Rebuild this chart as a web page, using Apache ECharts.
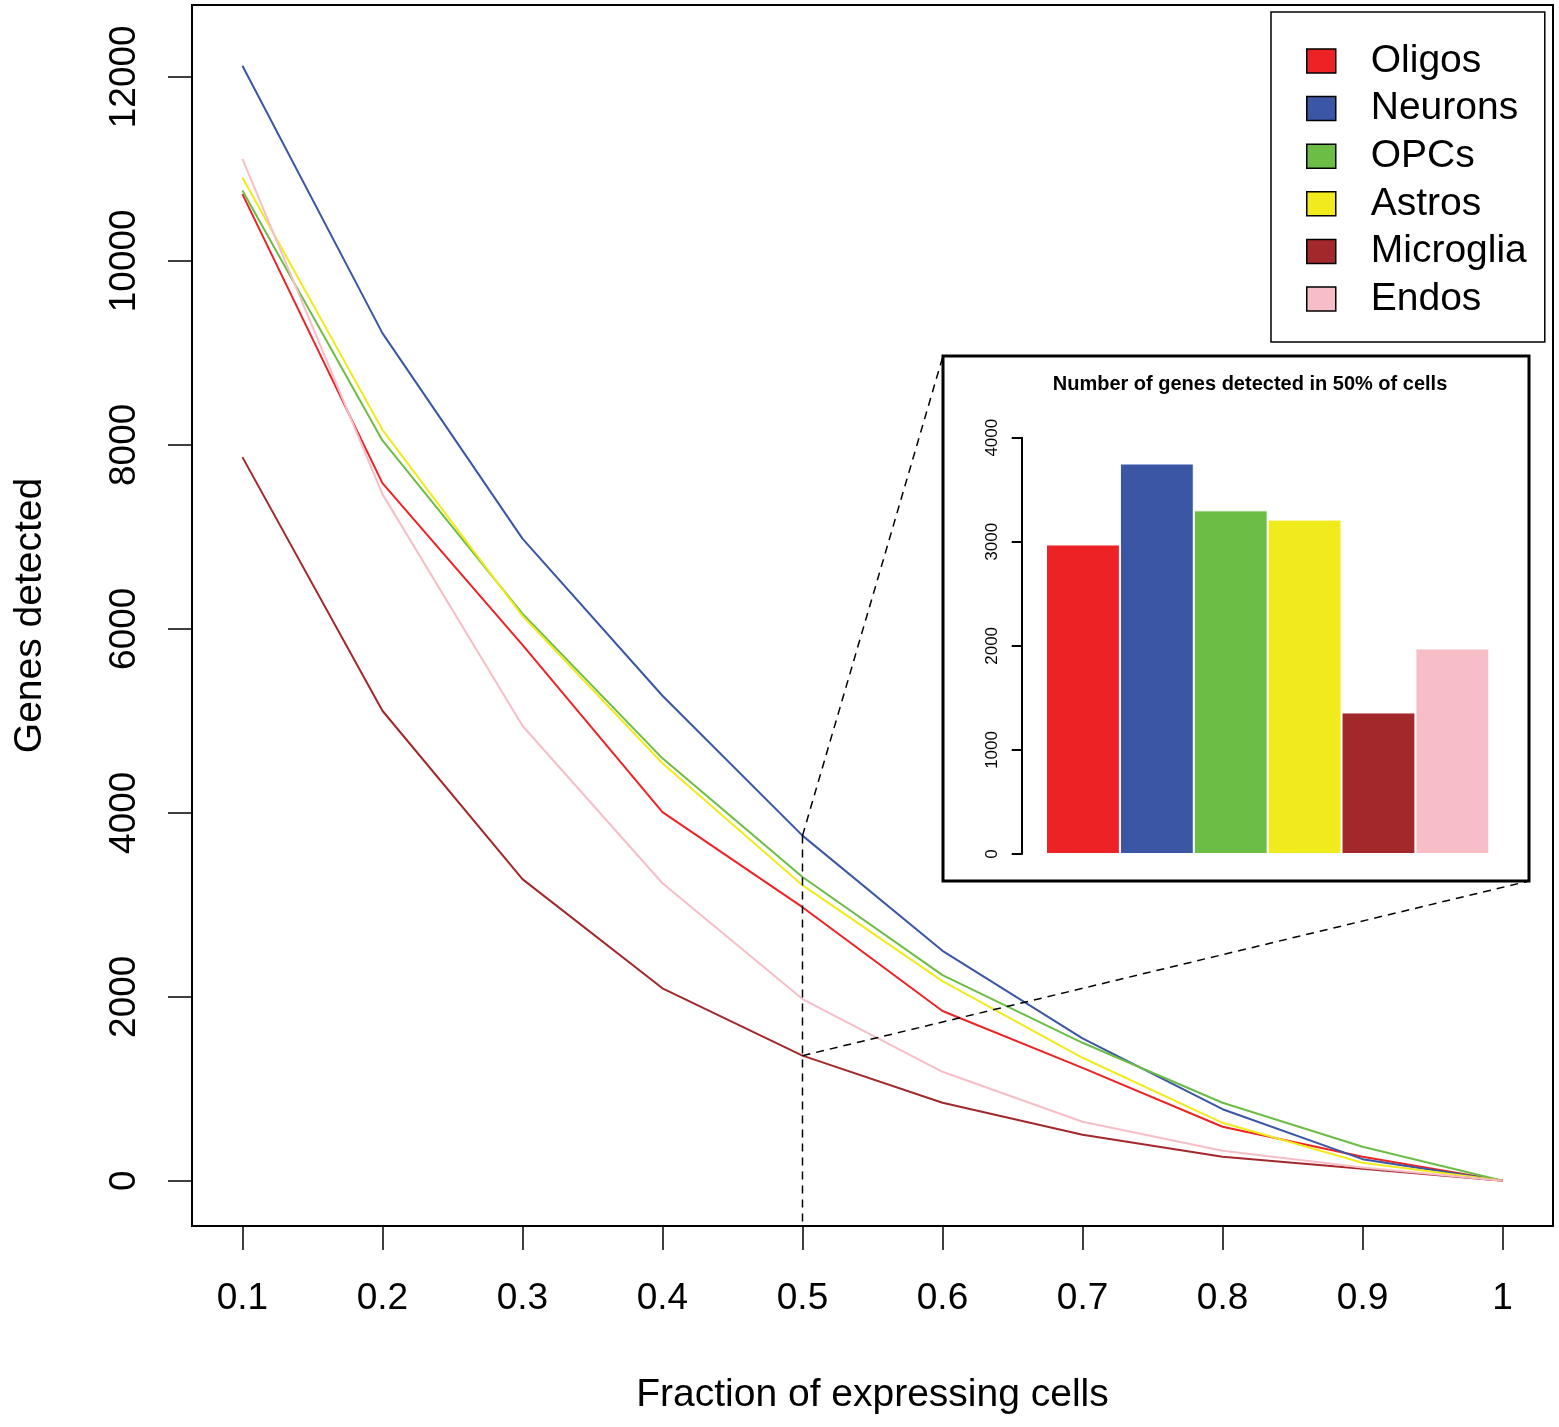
<!DOCTYPE html>
<html>
<head>
<meta charset="utf-8">
<script src="https://cdn.jsdelivr.net/npm/echarts@6/dist/echarts.min.js"></script>
<style>
html,body{margin:0;padding:0;background:#fff;}
#chart{width:1559px;height:1427px;}
</style>
</head>
<body>
<div id="chart"></div>
<script>
// ---------- data ----------
const fractions = [0.1, 0.2, 0.3, 0.4, 0.5, 0.6, 0.7, 0.8, 0.9, 1];
const cellTypes = ['Oligos', 'Neurons', 'OPCs', 'Astros', 'Microglia', 'Endos'];
const oligos    = [10725, 7583, 5826, 4008, 2974, 1845, 1228, 587, 261, 0];
const neurons   = [12120, 9214, 6980, 5272, 3752, 2500, 1548, 778, 235, 0];
const opcs      = [10764, 8047, 6165, 4592, 3302, 2235, 1500, 848, 370, 0];
const astros    = [10906, 8163, 6140, 4538, 3213, 2170, 1337, 630, 196, 0];
const microglia = [7866, 5109, 3279, 2092, 1360, 848, 500, 261, 130, 0];
const endos     = [11109, 7464, 4946, 3234, 1975, 1185, 641, 326, 145, 0];
const xTicks = [0.1, 0.2, 0.3, 0.4, 0.5, 0.6, 0.7, 0.8, 0.9, 1];
const yTicks = [0, 2000, 4000, 6000, 8000, 10000, 12000];
const insetTicks = [0, 1000, 2000, 3000, 4000];
const highlightFraction = 0.5;
const insetTitle = 'Number of genes detected in 50% of cells';

// ---------- styles ----------
const colors = ['#ED2224', '#3A56A5', '#6CBD45', '#F1EA1D', '#A3282B', '#F7BEC8'];
const allSeries = [oligos, neurons, opcs, astros, microglia, endos];
const FONT = '"Liberation Sans", Arial, Helvetica, sans-serif';
const hiIdx = fractions.indexOf(highlightFraction);
const insetValues = allSeries.map(a => a[hiIdx]);

// layout constants (pixels)
const insetBox = {x: 943, y: 356, w: 586, h: 525};
const yMin = -491.5, yMax = 12780.5;

const chart = echarts.init(document.getElementById('chart'), null, {renderer: 'canvas'});

const lineSeries = allSeries.map((arr, i) => ({
  name: cellTypes[i],
  type: 'line',
  xAxisIndex: 0, yAxisIndex: 0,
  data: fractions.map((f, j) => [f, arr[j]]),
  showSymbol: false,
  symbol: 'none',
  color: colors[i],
  lineStyle: {color: colors[i], width: 2},
  itemStyle: {color: colors[i]},
  animation: false,
  z: 3
}));

const option = {
  animation: false,
  backgroundColor: '#fff',
  textStyle: {fontFamily: FONT},
  title: [{
    text: insetTitle,
    left: 1250,
    top: 374,
    textAlign: 'center',
    padding: 0,
    textStyle: {fontFamily: FONT, fontSize: 20, fontWeight: 'bold', color: '#000', lineHeight: 20}
  }],
  legend: {
    data: cellTypes,
    orient: 'vertical',
    left: 1271,
    top: 12,
    icon: 'rect',
    itemWidth: 29,
    itemHeight: 24,
    itemGap: 7.6,
    padding: [29, 18, 23, 35],
    borderColor: '#000',
    borderWidth: 1.5,
    backgroundColor: '#fff',
    itemStyle: {borderColor: '#000', borderWidth: 1.5},
    textStyle: {fontFamily: FONT, fontSize: 39, color: '#000', lineHeight: 40, padding: [0, 0, 0, 30]},
    selectedMode: false
  },
  grid: [
    {left: 192, top: 5, width: 1361, height: 1221, show: true, borderColor: '#000', borderWidth: 2,
     backgroundColor: 'transparent', containLabel: false, outerBoundsMode: 'none'},
    {left: 1046, top: 437.7, width: 443.3, height: 416.3, containLabel: false, outerBoundsMode: 'none'}
  ],
  xAxis: [
    {
      type: 'value', gridIndex: 0, min: 0.064, max: 1.036,
      splitLine: {show: false},
      axisLine: {show: false, onZero: false},
      axisTick: {show: true, inside: false, length: 24, customValues: xTicks, lineStyle: {color: '#000', width: 1.5}},
      axisLabel: {show: true, customValues: xTicks, margin: 54, fontSize: 37, color: '#000', fontFamily: FONT,
        formatter: v => String(v)},
      name: 'Fraction of expressing cells',
      nameLocation: 'middle',
      nameGap: 150,
      nameTextStyle: {fontSize: 39, color: '#000', fontFamily: FONT}
    },
    {
      type: 'category', gridIndex: 1, data: cellTypes,
      boundaryGap: true,
      axisLine: {show: false, onZero: false}, axisTick: {show: false}, axisLabel: {show: false}, splitLine: {show: false}
    }
  ],
  yAxis: [
    {
      type: 'value', gridIndex: 0, min: yMin, max: yMax,
      splitLine: {show: false},
      axisLine: {show: false, onZero: false},
      axisTick: {show: true, inside: false, length: 24, customValues: yTicks, lineStyle: {color: '#000', width: 1.5}},
      axisLabel: {show: true, customValues: yTicks, rotate: 90, margin: 49, fontSize: 37, color: '#000', fontFamily: FONT,
        formatter: v => String(v)},
      name: 'Genes detected',
      nameLocation: 'middle',
      nameRotate: 90,
      nameGap: 142,
      nameTextStyle: {fontSize: 39, color: '#000', fontFamily: FONT}
    },
    {
      type: 'value', gridIndex: 1, min: 0, max: 4000,
      offset: 24.3,
      z: 10,
      splitLine: {show: false},
      axisLine: {show: true, onZero: false, lineStyle: {color: '#000', width: 2}},
      axisTick: {show: true, inside: false, length: 10, customValues: insetTicks, lineStyle: {color: '#000', width: 2}},
      axisLabel: {show: true, customValues: insetTicks, rotate: 90, margin: 20.5, fontSize: 17, color: '#000', fontFamily: FONT,
        formatter: v => String(v)}
    }
  ],
  series: lineSeries.concat([
    {
      name: '_guide',
      type: 'line',
      xAxisIndex: 0, yAxisIndex: 0,
      data: [[highlightFraction, neurons[hiIdx]], [highlightFraction, yMin]],
      showSymbol: false, symbol: 'none',
      lineStyle: {color: '#000', width: 1.5, type: [8, 6]},
      silent: true, z: 4
    },
    {
      name: 'inset',
      type: 'bar',
      xAxisIndex: 1, yAxisIndex: 1,
      barWidth: '100%',
      barCategoryGap: 0,
      data: insetValues.map((v, i) => ({value: v, itemStyle: {color: colors[i]}})),
      itemStyle: {borderColor: '#fff', borderWidth: 1},
      silent: true,
      z: 6
    }
  ])
};

chart.setOption(option);

// dashed connectors from the highlighted points to the inset corners
const pTop = chart.convertToPixel({gridIndex: 0}, [highlightFraction, neurons[hiIdx]]);
const pBot = chart.convertToPixel({gridIndex: 0}, [highlightFraction, microglia[hiIdx]]);
chart.setOption({
  graphic: [
    {
      type: 'rect', z: 5,
      shape: {x: insetBox.x, y: insetBox.y, width: insetBox.w, height: insetBox.h},
      style: {fill: '#fff', stroke: '#000', lineWidth: 3}
    },
    {
      type: 'line', z: 4,
      shape: {x1: pTop[0], y1: pTop[1], x2: insetBox.x, y2: insetBox.y},
      style: {stroke: '#000', lineWidth: 1.5, lineDash: [8, 6]}
    },
    {
      type: 'line', z: 4,
      shape: {x1: pBot[0], y1: pBot[1], x2: insetBox.x + insetBox.w, y2: insetBox.y + insetBox.h},
      style: {stroke: '#000', lineWidth: 1.5, lineDash: [8, 6]}
    }
  ]
});
</script>
</body>
</html>
